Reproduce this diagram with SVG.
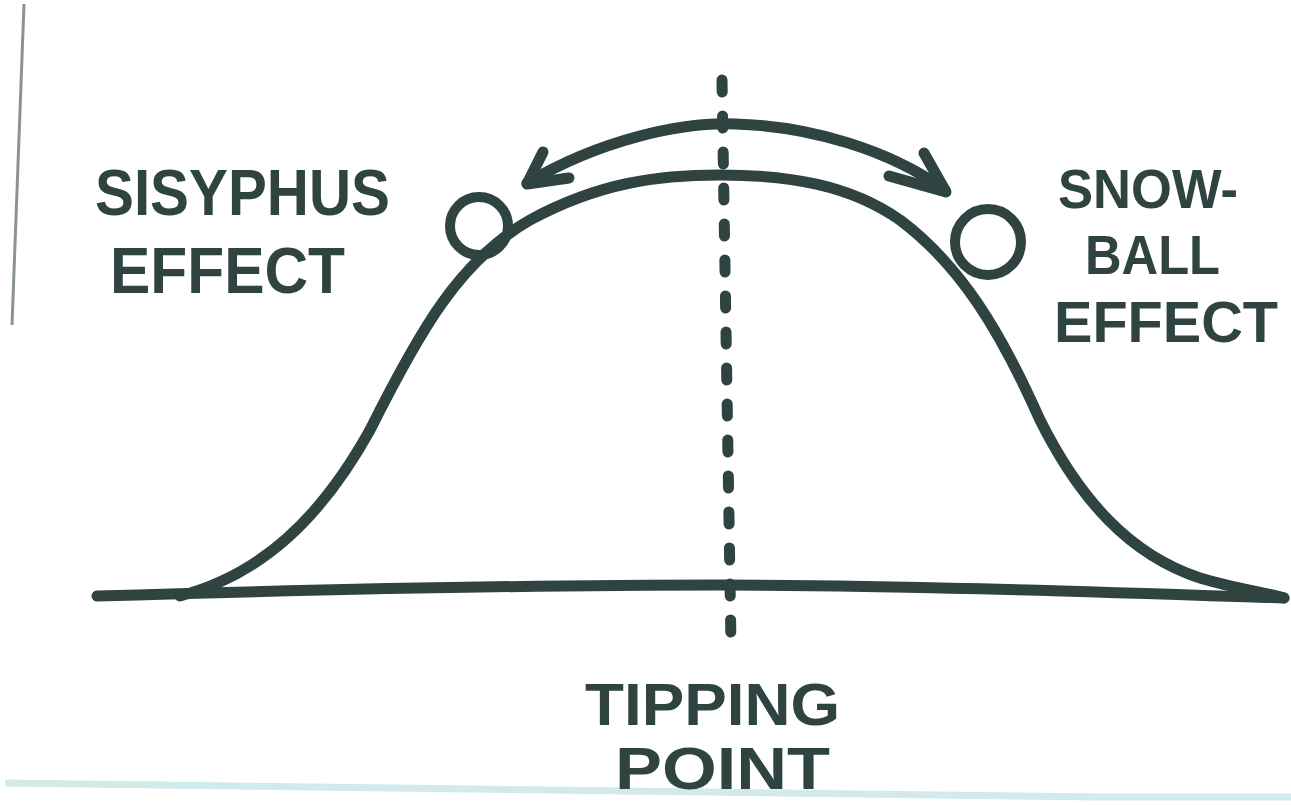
<svg xmlns="http://www.w3.org/2000/svg" width="1291" height="805" viewBox="0 0 1291 805">
<style>
.ink{fill:none;stroke:#2f4341;stroke-linecap:round;stroke-linejoin:round}
.lbl{font-family:"Liberation Sans",Arial,sans-serif;font-weight:bold;fill:#2f4341}
</style>
<rect width="1291" height="805" fill="#ffffff"/>
<g id="paper-edges">
<path d="M24,4 L12,325" stroke="#8a9493" stroke-width="3" fill="none"/>
<path d="M5,783 C300,786 700,795 1100,797 L1291,797" stroke="#d3eaea" stroke-width="7" fill="none"/>
</g>
<g id="connectors">
<path id="baseline" class="ink" stroke-width="11" d="M97,596 C300,590 500,585 720,585 C900,585 1100,592 1284,598"/>
<path id="tipping-line" class="ink" stroke-width="11" stroke-dasharray="12 24" d="M722,80 L731,645"/>
<path id="arc-arrow" class="ink" stroke-width="11" d="M527,183 C600,140 680,122 735,124 C810,126 890,150 945,190"/>
<path class="ink" stroke-width="11" d="M543,152 L527,184 L569,178"/>
<path class="ink" stroke-width="11" d="M924,153 L946,192 L889,176"/>
</g>
<g id="curve">
<path class="ink" stroke-width="11" d="M180,596 C260,575 320,520 370,430 C420,330 460,260 530,220 C600,182 660,175 720,175 C790,175 850,185 900,220 C960,265 1000,330 1040,420 C1080,500 1130,555 1200,578 C1240,590 1270,593 1284,598"/>
</g>
<g id="sisyphus-ball">
<circle class="ink" stroke-width="10" cx="479" cy="226" r="29"/>
</g>
<g id="snowball">
<circle class="ink" stroke-width="10" cx="988" cy="242" r="33"/>
</g>
<g id="sisyphus-label">
<text class="lbl" x="95" y="215" font-size="64" textLength="295" lengthAdjust="spacingAndGlyphs">SISYPHUS</text>
<text class="lbl" x="110" y="293" font-size="64" textLength="235" lengthAdjust="spacingAndGlyphs">EFFECT</text>
</g>
<g id="snowball-label">
<text class="lbl" x="1058" y="208" font-size="56" textLength="180" lengthAdjust="spacingAndGlyphs">SNOW-</text>
<text class="lbl" x="1085" y="274" font-size="56" textLength="135" lengthAdjust="spacingAndGlyphs">BALL</text>
<text class="lbl" x="1054" y="342" font-size="58" textLength="224" lengthAdjust="spacingAndGlyphs">EFFECT</text>
</g>
<g id="tipping-label">
<text class="lbl" x="585" y="725" font-size="60" textLength="255" lengthAdjust="spacingAndGlyphs">TIPPING</text>
<text class="lbl" x="615" y="789" font-size="60" textLength="215" lengthAdjust="spacingAndGlyphs">POINT</text>
</g>
</svg>
